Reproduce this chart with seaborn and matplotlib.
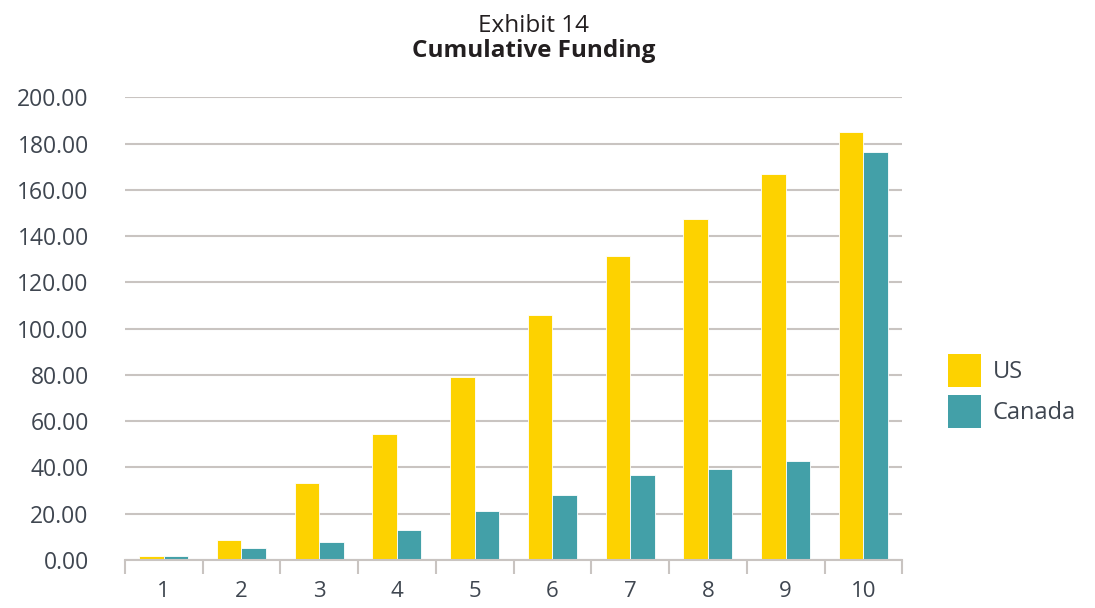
import matplotlib
matplotlib.use("Agg")
import matplotlib.pyplot as plt
from matplotlib.patches import Patch
import seaborn as sns
import pandas as pd
import numpy as np

years = ["1", "2", "3", "4", "5", "6", "7", "8", "9", "10"]
us = [1.5, 8.5, 33.3, 54.5, 79.0, 105.8, 131.3, 147.3, 167.0, 184.8]
canada = [1.5, 5.2, 7.8, 13.0, 21.2, 28.1, 36.7, 39.4, 42.8, 176.5]
series = ["US", "Canada"]
colors = ["#FDD200", "#43A0A8"]
yticks = [0, 20, 40, 60, 80, 100, 120, 140, 160, 180, 200]

df = pd.DataFrame({
    "year": years * 2,
    "value": us + canada,
    "series": ["US"] * len(years) + ["Canada"] * len(years),
})

sns.set_theme(style="white")
plt.rcParams["font.family"] = ["Open Sans", "DejaVu Sans"]
text_color = "#3f4650"
title_color = "#231f20"
grid_color = "#c9c4c1"

fig = plt.figure(figsize=(10.95, 6.08), dpi=100)
ax = fig.add_axes([0.114, 0.079, 0.71, 0.761])

sns.barplot(data=df, x="year", y="value", hue="series", hue_order=series,
            palette=colors, width=0.63, ax=ax, saturation=1, legend=False,
            edgecolor="white", linewidth=0.6)

ax.set_ylim(0, 200)
ax.set_xlim(-0.5, len(years) - 0.5)
ax.set_yticks(yticks)
ax.set_yticklabels([f"{v:.2f}" for v in yticks], fontsize=16.5, color=text_color)
ax.tick_params(axis="y", length=0, pad=26)
ax.tick_params(axis="x", which="major", bottom=True, length=0, pad=15,
               labelsize=16, labelcolor=text_color)
ax.set_xticks(np.arange(-0.5, len(years), 1.0), minor=True)
ax.tick_params(axis="x", which="minor", bottom=True, length=10, width=1.5,
               color=grid_color, direction="out")
ax.yaxis.grid(True, color=grid_color, linewidth=1.5)
ax.set_axisbelow(True)
ax.set_xlabel("")
ax.set_ylabel("")
for s in ["top", "right", "left"]:
    ax.spines[s].set_visible(False)
ax.spines["bottom"].set_color(grid_color)
ax.spines["bottom"].set_linewidth(1.5)

fig.text(0.487, 0.947, "Exhibit 14", ha="center", va="baseline", fontsize=17.5, color=title_color)
fig.text(0.487, 0.906, "Cumulative Funding", ha="center", va="baseline", fontsize=17.5,
         fontweight="bold", color=title_color)

handles = [Patch(facecolor=c, edgecolor="none") for c in colors]
fig.legend(handles, series, loc="center left", bbox_to_anchor=(0.846, 0.357),
           frameon=False, fontsize=17, labelcolor=text_color,
           handlelength=1.4, handleheight=1.75, handletextpad=0.5, labelspacing=0.35)

fig.savefig("out.png", dpi=100)
